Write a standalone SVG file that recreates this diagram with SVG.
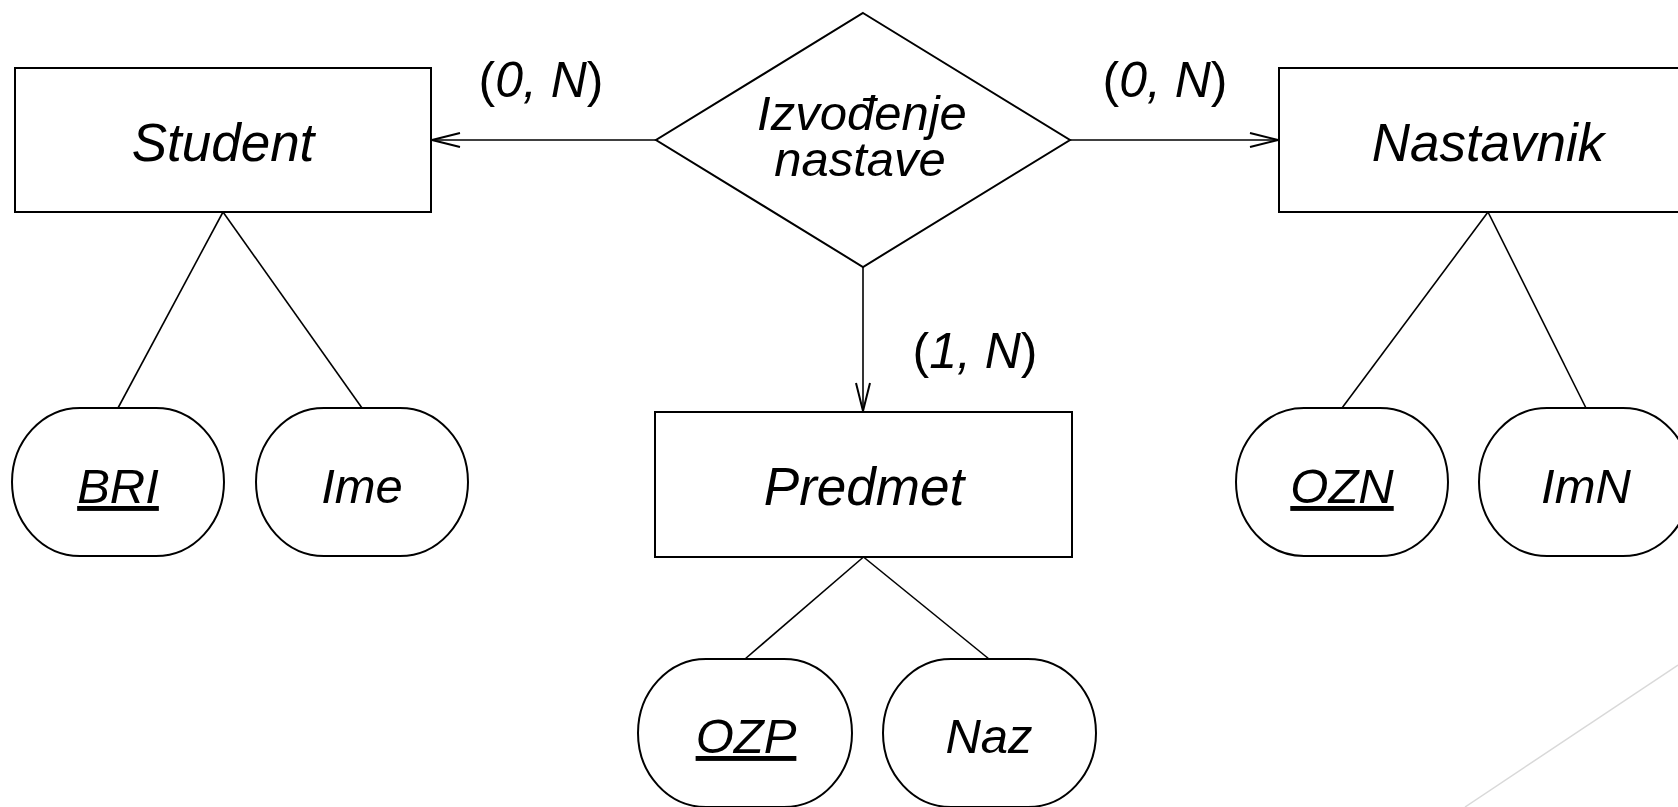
<svg xmlns="http://www.w3.org/2000/svg" width="1678" height="807" viewBox="0 0 1678 807">
<defs>
<marker id="arr" markerUnits="userSpaceOnUse" markerWidth="34" markerHeight="20" viewBox="-31 -10 34 20" refX="0" refY="0" orient="auto">
<path d="M-28,-7 L0,0 L-28,7" fill="none" stroke="#000" stroke-width="2"/>
</marker>
</defs>
<style>
.box{fill:#fff;stroke:#000;stroke-width:2}
.ln{fill:none;stroke:#000;stroke-width:1.6}
.t{font-family:"Liberation Sans",Arial,sans-serif;font-style:italic;fill:#000;text-anchor:middle}
.ent{font-size:53px}
.rel{font-size:49px}
.att{font-size:49px}
.card{font-size:50px}
.up{font-style:normal}
.key{text-decoration:underline}
</style>
<rect width="1678" height="807" fill="#fff"/>
<line x1="1465" y1="807" x2="1678" y2="665" stroke="#d9d9d9" stroke-width="1.5"/>
<g id="connectors">
<line class="ln" x1="656" y1="140" x2="432" y2="140" marker-end="url(#arr)"/>
<line class="ln" x1="1070" y1="140" x2="1278" y2="140" marker-end="url(#arr)"/>
<line class="ln" x1="863" y1="267" x2="863" y2="411" marker-end="url(#arr)"/>
<line class="ln" x1="223" y1="212" x2="118" y2="408"/>
<line class="ln" x1="223" y1="212" x2="362" y2="408"/>
<line class="ln" x1="1488" y1="212" x2="1342" y2="408"/>
<line class="ln" x1="1488" y1="212" x2="1586" y2="408"/>
<line class="ln" x1="863.5" y1="557" x2="745" y2="659"/>
<line class="ln" x1="863.5" y1="557" x2="989" y2="659"/>
<text class="t card" x="541" y="97"><tspan class="up">(</tspan>0, N<tspan class="up">)</tspan></text>
<text class="t card" x="1165" y="97"><tspan class="up">(</tspan>0, N<tspan class="up">)</tspan></text>
<text class="t card" x="975" y="368"><tspan class="up">(</tspan>1, N<tspan class="up">)</tspan></text>
</g>
<g id="student">
<rect class="box" x="15" y="68" width="416" height="144"/>
<text class="t ent" x="223" y="161">Student</text>
</g>
<g id="izvodjenje">
<polygon class="box" points="863,13 1070,140 863,267 656,140"/>
<text class="t rel" x="862" y="130">Izvođenje</text>
<text class="t rel" x="860" y="176">nastave</text>
</g>
<g id="nastavnik">
<rect class="box" x="1279" y="68" width="418" height="144"/>
<text class="t ent" x="1488" y="161">Nastavnik</text>
</g>
<g id="predmet">
<rect class="box" x="655" y="412" width="417" height="145"/>
<text class="t ent" x="864" y="505">Predmet</text>
</g>
<g id="bri">
<rect class="box" x="12" y="408" width="212" height="148" rx="68" ry="74"/>
<text class="t att key" x="118" y="503">BRI</text>
</g>
<g id="ime">
<rect class="box" x="256" y="408" width="212" height="148" rx="68" ry="74"/>
<text class="t att" x="362" y="503">Ime</text>
</g>
<g id="ozn">
<rect class="box" x="1236" y="408" width="212" height="148" rx="68" ry="74"/>
<text class="t att key" x="1342" y="503">OZN</text>
</g>
<g id="imn">
<rect class="box" x="1479" y="408" width="212" height="148" rx="68" ry="74"/>
<text class="t att" x="1586" y="503">ImN</text>
</g>
<g id="ozp">
<rect class="box" x="638" y="659" width="214" height="148" rx="68" ry="74"/>
<text class="t att key" x="746" y="753">OZP</text>
</g>
<g id="naz">
<rect class="box" x="883" y="659" width="213" height="148" rx="68" ry="74"/>
<text class="t att" x="989" y="753">Naz</text>
</g>
</svg>
